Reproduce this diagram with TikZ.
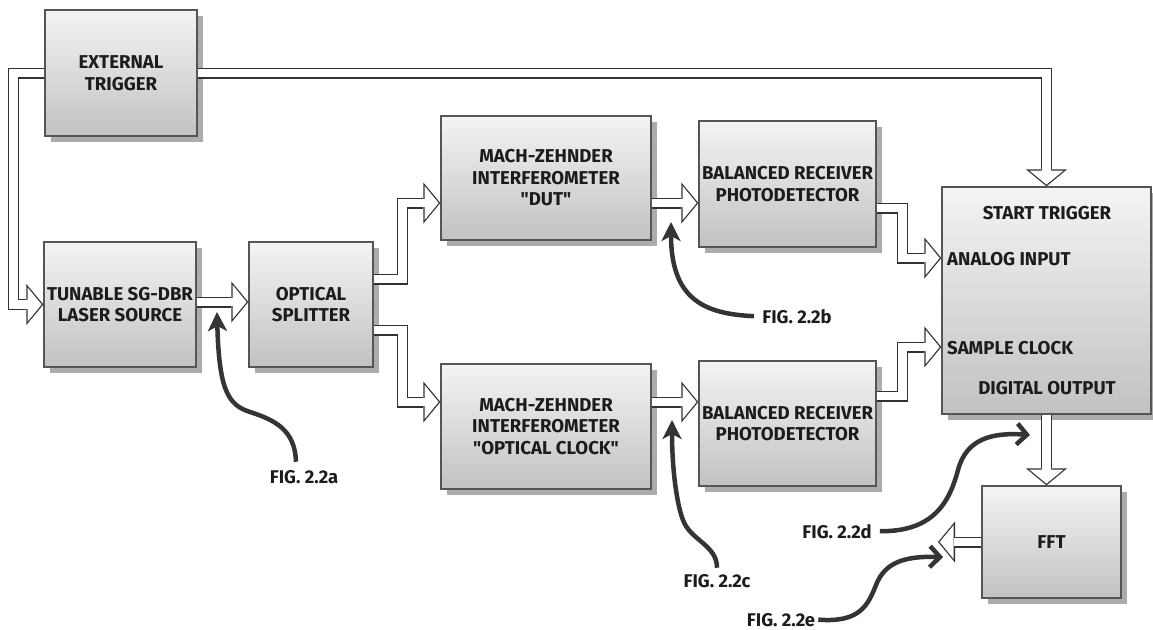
\documentclass[tikz,border=0pt]{standalone}
\usepackage{fontspec}
\setmainfont{Fira Sans}
\usepackage{xcolor}
\definecolor{edge}{RGB}{85,85,85}
\definecolor{pipeline}{RGB}{50,50,50}
\definecolor{shade}{RGB}{172,172,172}
\definecolor{topfill}{RGB}{244,244,244}
\definecolor{botfill}{RGB}{194,194,194}
\definecolor{ink}{RGB}{28,28,28}
\definecolor{pointer}{RGB}{52,52,52}
\usepackage{tikz}
\usetikzlibrary{positioning, arrows.meta, shadows}

\begin{document}
\begin{tikzpicture}[x=1pt, y=-1pt,
  block/.style={draw=edge, line width=1.3pt, top color=topfill, bottom color=botfill,
                align=center, inner sep=0pt, text=ink,
                font=\fontsize{18.6}{21.5}\selectfont\bfseries,
                drop shadow={shadow xshift=6pt, shadow yshift=-6pt, fill=shade, opacity=1}},
  port/.style={text=ink, font=\fontsize{18.6}{21.5}\selectfont\bfseries, inner sep=0pt},
  figtag/.style={text=ink, font=\fontsize{18.4}{21.5}\selectfont\bfseries, inner sep=0pt, anchor=base},
  pipe/.style={draw=pipeline, line width=11pt, line join=miter,
               -{Triangle[length=17pt, width=41pt, line width=0pt]},
               postaction={draw=white, line width=8.4pt, shorten >=1.7pt,
                           -{Triangle[length=14pt, width=34pt, line width=0pt]}}},
  pointer/.style={draw=pointer, line width=4.5pt, -{Stealth[length=19pt, width=19pt, inset=5pt]}},
  barb/.style={draw=pointer, line width=4.5pt, -{Straight Barb[length=10pt, width=21pt]}},
]
  \useasboundingbox (0,0) rectangle (1153,629);

  % Blocks
  \node[block, minimum width=152pt, minimum height=126pt] (trig) at (121,73) {EXTERNAL\\TRIGGER};
  \node[block, minimum width=152pt, minimum height=125pt] (laser) at (120,304.5) {TUNABLE SG-DBR\\LASER SOURCE};
  \node[block, minimum width=124pt, minimum height=125pt] (split) at (311,304.5) {OPTICAL\\SPLITTER};
  \node[block, minimum width=210pt, minimum height=124pt] (mzidut) at (546,178) {MACH-ZEHNDER\\INTERFEROMETER\\\textquotedbl DUT\textquotedbl};
  \node[block, minimum width=177pt, minimum height=126pt] (brdut) at (787.5,184) {BALANCED RECEIVER\\PHOTODETECTOR};
  \node[block, minimum width=210pt, minimum height=125pt] (mziclk) at (546,426.5) {MACH-ZEHNDER\\INTERFEROMETER\\\textquotedbl OPTICAL CLOCK\textquotedbl};
  \node[block, minimum width=177pt, minimum height=125pt] (brclk) at (787.5,423.5) {BALANCED RECEIVER\\PHOTODETECTOR};
  \node[block, minimum width=209pt, minimum height=227pt] (daq) at (1046.5,300.5) {};
  \node[block, minimum width=139pt, minimum height=112pt] (fft) at (1051.5,542) {FFT};

  % Ports of the acquisition card
  \node[port, anchor=base] (start) at (1047,219) {START TRIGGER};
  \node[port, anchor=base west] (analog) at (947,265) {ANALOG INPUT};
  \node[port, anchor=base west] (sample) at (947,354) {SAMPLE CLOCK};
  \node[port, anchor=base] (digital) at (1047,394) {DIGITAL OUTPUT};

  % Hollow arrows
  \draw[pipe] (trig.west) -- ++(-31,0) |- (laser.west);
  \draw[pipe] (trig.east) -| (daq.north);
  \draw[pipe] ([yshift=2.5pt]laser.east) -- ([yshift=2.5pt]split.west);
  \draw[pipe] ([yshift=25.5pt]split.east) -- ++(29,0) |- ([yshift=-25pt]mzidut.west);
  \draw[pipe] ([yshift=-25.5pt]split.east) -- ++(29,0) |- ([yshift=24.5pt]mziclk.west);
  \draw[pipe] ([yshift=-25pt]mzidut.east) -- ([yshift=-19pt]brdut.west);
  \draw[pipe] ([yshift=24.5pt]mziclk.east) -- ([yshift=21.5pt]brclk.west);
  \draw[pipe] ([yshift=-24pt]brdut.east) -- ++(26,0) |- ([yshift=42.5pt]daq.west);
  \draw[pipe] ([yshift=27.5pt]brclk.east) -- ++(26,0) |- ([yshift=-46.5pt]daq.west);
  \draw[pipe] (daq.south) -- (daq.south |- fft.north);
  \coordinate (fftout) at (938,542);
  \draw[pipe] (fft.west) -- (fftout);

  % Figure references
  \node[figtag] (figa) at (304,483) {FIG. 2.2a};
  \node[figtag] (figb) at (797,323) {FIG. 2.2b};
  \node[figtag] (figc) at (717,587) {FIG. 2.2c};
  \node[figtag] (figd) at (837,538) {FIG. 2.2d};
  \node[figtag] (fige) at (781,626) {FIG. 2.2e};

  \coordinate (tipa) at (217,312);
  \coordinate (tipb) at (671,222);
  \coordinate (tipc) at (672,420);
  \coordinate (tipd) at (1030,435);
  \coordinate (tipe) at (943,557);

  \draw[pointer] ([xshift=-8pt, yshift=8pt]figa.north) .. controls (295,430) and (275,420) .. (250,412)
    .. controls (228,405) and (219,390) .. (tipa);
  \draw[pointer] ([xshift=-8pt]figb.west) .. controls (705,314) and (671,300) .. (tipb);
  \draw[pointer] ([yshift=6pt]figc.north) .. controls (717,545) and (690,540) .. (683,520)
    .. controls (677,505) and (672,470) .. (tipc);
  \draw[barb] ([xshift=8pt]figd.east) .. controls (935,532) and (950,500) .. (958,470)
    .. controls (966,440) and (990,432) .. (tipd);
  \draw[barb] ([xshift=3pt]fige.east) .. controls (860,623) and (868,605) .. (876,585)
    .. controls (885,562) and (905,556) .. (tipe);
\end{tikzpicture}
\end{document}
